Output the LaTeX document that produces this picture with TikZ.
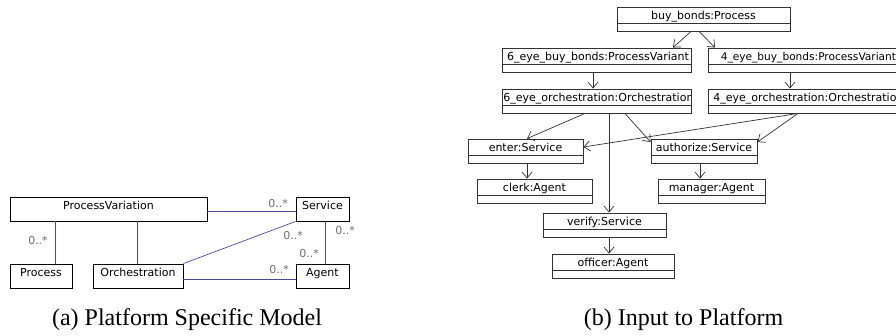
\documentclass[tikz,border=0pt]{standalone}
\usepackage{fontspec}
\setmainfont{Liberation Serif}
\newfontfamily\umlfamily{DejaVu Sans}
\newcommand\umlfont{\umlfamily\fontsize{11pt}{13pt}\selectfont}
\newcommand\umlsmall{\umlfamily\fontsize{10.6pt}{13pt}\selectfont}
\newcommand\capfont{\rmfamily\fontsize{24pt}{28pt}\selectfont}
\usetikzlibrary{arrows.meta}
\definecolor{assocblue}{RGB}{72,72,160}
\definecolor{objgray}{RGB}{50,50,50}
\definecolor{multgray}{RGB}{110,110,110}
\tikzset{
  cls/.style={draw=black, line width=0.9pt, rectangle, inner sep=0pt, minimum height=24pt, text height=12pt, text depth=12pt, font=\umlfont},
  obj/.style={draw=objgray, line width=0.9pt, rectangle, inner sep=0pt, minimum height=24pt, text height=12pt, text depth=12pt, font=\umlfont,
    path picture={\draw[objgray, line width=0.9pt] ([yshift=7.5pt]path picture bounding box.south west) -- ([yshift=7.5pt]path picture bounding box.south east);}},
  cutobj/.style 2 args={draw=objgray, line width=0.9pt, rectangle, inner sep=0pt, minimum height=24pt,
    path picture={\draw[objgray, line width=0.9pt] ([yshift=7.5pt]path picture bounding box.south west) -- ([yshift=7.5pt]path picture bounding box.south east);
      \node[anchor=base west, inner sep=0pt, font=#2] at ([xshift=1pt]path picture bounding box.west) {#1};}},
  assoc/.style={draw=assocblue, line width=0.7pt},
  arr/.style={draw=objgray, line width=0.7pt, -{Straight Barb[length=6pt,width=10pt]}},
  mult/.style={font=\umlfont, text=multgray, inner sep=0pt},
}
\begin{document}
\begin{tikzpicture}[x=1pt,y=-1pt]
\clip (0,0) rectangle (896,335);
% (a) platform specific model
\node[cls, minimum width=197pt] (pv) at (108.5,209) {ProcessVariation};
\node[cls, minimum width=53pt] (svc) at (322.5,209) {Service};
\node[cls, minimum width=62pt] (proc) at (41,276) {Process};
\node[cls, minimum width=90pt] (orch) at (138,276) {Orchestration};
\node[cls, minimum width=53pt] (agent) at (322.5,276) {Agent};
\draw[assoc] ([yshift=-2pt]pv.east) -- ([yshift=-2pt]svc.west);
\draw[assoc] ([xshift=-53.5pt]pv.south) -- ([xshift=14pt]proc.north);
\draw[assoc] ([xshift=28.5pt]pv.south) -- ([xshift=-1pt]orch.north);
\draw[assoc] (orch.north east) -- (svc.south west);
\draw[assoc] ([yshift=-3pt]orch.east) -- ([yshift=-3pt]agent.west);
\draw[assoc] ([xshift=2.5pt]svc.south) -- ([xshift=2.5pt]agent.north);
\node[mult] (m1) at (38,240) {0..*};
\node[mult] (m2) at (278,203) {0..*};
\node[mult] (m3) at (293,235) {0..*};
\node[mult] (m4) at (345,230) {0..*};
\node[mult] (m5) at (309,253) {0..*};
\node[mult] (m6) at (279,269) {0..*};
% (b) input to platform
\node[obj, minimum width=173pt] (bb) at (703.5,19) {buy\_bonds:Process};
\node[cutobj={6\_eye\_buy\_bonds:ProcessVariant}{\umlfont}, minimum width=189pt] (v6) at (596.5,60) {};
\node[cutobj={4\_eye\_buy\_bonds:ProcessVariant}{\umlsmall}, minimum width=198pt] (v4) at (807,60) {};
\node[cutobj={6\_eye\_orchestration:Orchestration}{\umlfont}, minimum width=189pt] (o6) at (596.5,101) {};
\node[cutobj={4\_eye\_orchestration:Orchestration}{\umlfont}, minimum width=198pt] (o4) at (807,101) {};
\node[obj, minimum width=115pt] (enter) at (525.5,151) {enter:Service};
\node[obj, minimum width=106pt] (auth) at (704,151) {authorize:Service};
\node[obj, minimum width=115pt] (clerk) at (534.5,191) {clerk:Agent};
\node[obj, minimum width=107pt] (manager) at (711.5,191) {manager:Agent};
\node[obj, minimum width=123pt] (verify) at (604.5,225) {verify:Service};
\node[obj, minimum width=122pt] (officer) at (613,266) {officer:Agent};
\draw[arr] ([xshift=-12.5pt]bb.south) -- ([xshift=76.5pt]v6.north);
\draw[arr] ([xshift=-4.5pt]bb.south) -- ([xshift=-92pt]v4.north);
\draw[arr] ([xshift=-3.5pt]v6.south) -- ([xshift=-3.5pt]o6.north);
\draw[arr] ([xshift=-17pt]v4.south) -- ([xshift=-17pt]o4.north);
\draw[arr] ([xshift=-11.5pt]o6.south) -- ([xshift=1.5pt]enter.north);
\draw[arr] ([xshift=12.5pt]o6.south) -- ([xshift=4.5pt]verify.north);
\draw[arr] ([xshift=28.5pt]o6.south) -- ([yshift=9pt]auth.west);
\draw[arr] ([xshift=-9pt]o4.south) -- ([yshift=4pt]enter.east);
\draw[arr] ([xshift=-9pt]o4.south) -- ([yshift=9pt]auth.east);
\draw[arr] ([xshift=1.5pt]enter.south) -- ([xshift=-7.5pt]clerk.north);
\draw[arr] ([xshift=-4pt]auth.south) -- ([xshift=-11.5pt]manager.north);
\draw[arr] ([xshift=4.5pt]verify.south) -- ([xshift=-4pt]officer.north);
% captions
\node[font=\capfont, anchor=base, inner sep=0pt] (capa) at (187,325) {(a) Platform Specific Model};
\node[font=\capfont, anchor=base, inner sep=0pt] (capb) at (683.5,325) {(b) Input to Platform};
\end{tikzpicture}
\end{document}
